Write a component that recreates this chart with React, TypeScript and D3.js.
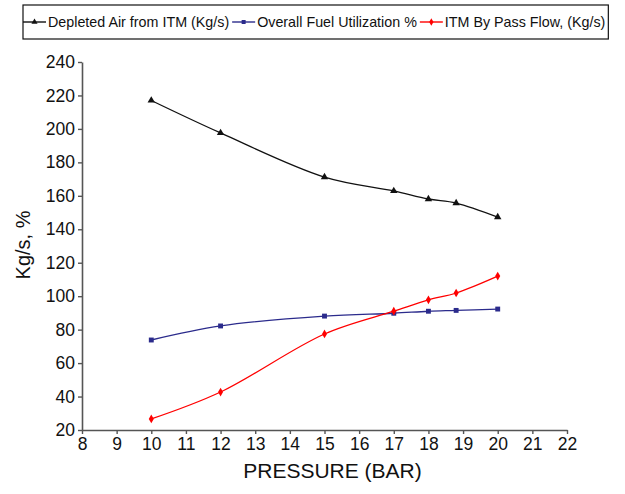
import { useEffect, useRef } from "react";
import * as d3 from "d3";

const pressure = [10, 12, 15, 17, 18, 18.8, 20];
const depletedAir = [217, 197.6, 171.2, 162.9, 158.1, 155.7, 147.3];
const fuelUtilization = [73.8, 82.2, 88.1, 89.8, 91, 91.5, 92.3];
const bypassFlow = [26.6, 42.7, 77.4, 91, 97.8, 101.9, 112];

const seriesNames = [
  "Depleted Air from ITM (Kg/s)",
  "Overall Fuel Utilization %",
  "ITM By Pass Flow, (Kg/s)",
];
const seriesColors = ["#111111", "#2b2b8c", "#ff0000"];
const seriesMarkers = [d3.symbolTriangle, d3.symbolSquare, d3.symbolDiamond];

const xTicks = d3.range(8, 23, 1);
const yTicks = d3.range(20, 241, 20);

const W = 625;
const H = 494;

export default function App() {
  const svgRef = useRef<SVGSVGElement>(null);

  useEffect(() => {
    if (!svgRef.current) return;
    const margin = { top: 62, right: 58, bottom: 64, left: 82 };
    const width = W - margin.left - margin.right;
    const height = H - margin.top - margin.bottom;

    const svg = d3.select(svgRef.current);
    svg.selectAll("*").remove();

    const font = "'Liberation Sans', Arial, sans-serif";

    const x = d3.scaleLinear().domain([8, 22]).range([0, width]);
    const y = d3.scaleLinear().domain([20, 240]).range([height, 0]);

    const g = svg
      .append("g")
      .attr("transform", `translate(${margin.left},${margin.top})`);

    // Axes
    const xAxis = g
      .append("g")
      .attr("transform", `translate(0,${height})`)
      .call(d3.axisBottom(x).tickValues(xTicks).tickSize(4).tickPadding(4).tickSizeOuter(0));
    const yAxis = g
      .append("g")
      .call(d3.axisLeft(y).tickValues(yTicks).tickSize(4).tickPadding(3).tickSizeOuter(0));

    [xAxis, yAxis].forEach((a) => {
      a.select(".domain").attr("stroke", "#555").attr("stroke-width", 1.6);
      a.selectAll(".tick line").attr("stroke", "#555").attr("stroke-width", 1.4);
      a.selectAll(".tick text")
        .style("font-family", font)
        .style("font-size", "17.5px")
        .attr("fill", "#111");
    });

    // Axis labels
    svg
      .append("text")
      .attr("x", margin.left + width / 2 + 8)
      .attr("y", 478)
      .attr("text-anchor", "middle")
      .style("font-family", font)
      .style("font-size", "21px")
      .attr("fill", "#111")
      .text("PRESSURE (BAR)");

    svg
      .append("text")
      .attr("transform", "rotate(-90)")
      .attr("x", -245)
      .attr("y", 30)
      .attr("text-anchor", "middle")
      .style("font-family", font)
      .style("font-size", "20px")
      .attr("fill", "#111")
      .text("Kg/s, %");

    // Lines
    const allSeries = [depletedAir, fuelUtilization, bypassFlow];
    const line = d3
      .line<[number, number]>()
      .x((d) => x(d[0]))
      .y((d) => y(d[1]))
      .curve(d3.curveCatmullRom.alpha(0.5));

    allSeries.forEach((vals, i) => {
      const pts = pressure.map((p, j) => [p, vals[j]] as [number, number]);
      g.append("path")
        .datum(pts)
        .attr("fill", "none")
        .attr("stroke", seriesColors[i])
        .attr("stroke-width", 1.3)
        .attr("d", line);
      g.selectAll(`.m${i}`)
        .data(pts)
        .join("path")
        .attr("class", `m${i}`)
        .attr("transform", (d) => `translate(${x(d[0])},${y(d[1])})`)
        .attr("d", d3.symbol(seriesMarkers[i], i === 2 ? 22 : 24)())
        .attr("fill", seriesColors[i]);
    });

    // Legend
    const legend = svg.append("g");
    const box = legend
      .append("rect")
      .attr("x", 23)
      .attr("y", 5)
      .attr("height", 34)
      .attr("fill", "white")
      .attr("stroke", "#111")
      .attr("stroke-width", 1.2);
    let cx = 23;
    seriesNames.forEach((name, i) => {
      legend
        .append("line")
        .attr("x1", cx)
        .attr("x2", cx + 23)
        .attr("y1", 22)
        .attr("y2", 22)
        .attr("stroke", seriesColors[i])
        .attr("stroke-width", 1.4);
      legend
        .append("path")
        .attr("transform", `translate(${cx + 11.5},22)`)
        .attr("d", d3.symbol(seriesMarkers[i], 16)())
        .attr("fill", seriesColors[i]);
      const t = legend
        .append("text")
        .attr("x", cx + 25)
        .attr("y", 27)
        .style("font-family", font)
        .style("font-size", "14.3px")
        .attr("fill", "#111")
        .text(name);
      const len = (t.node() as SVGTextElement).getComputedTextLength();
      cx = cx + 25 + len + 3;
    });
    box.attr("width", cx - 23);
  }, []);

  return (
    <div style={{ position: "absolute", left: 0, top: 0 }}>
      <svg ref={svgRef} width={W} height={H} style={{ display: "block", background: "white" }} />
    </div>
  );
}
